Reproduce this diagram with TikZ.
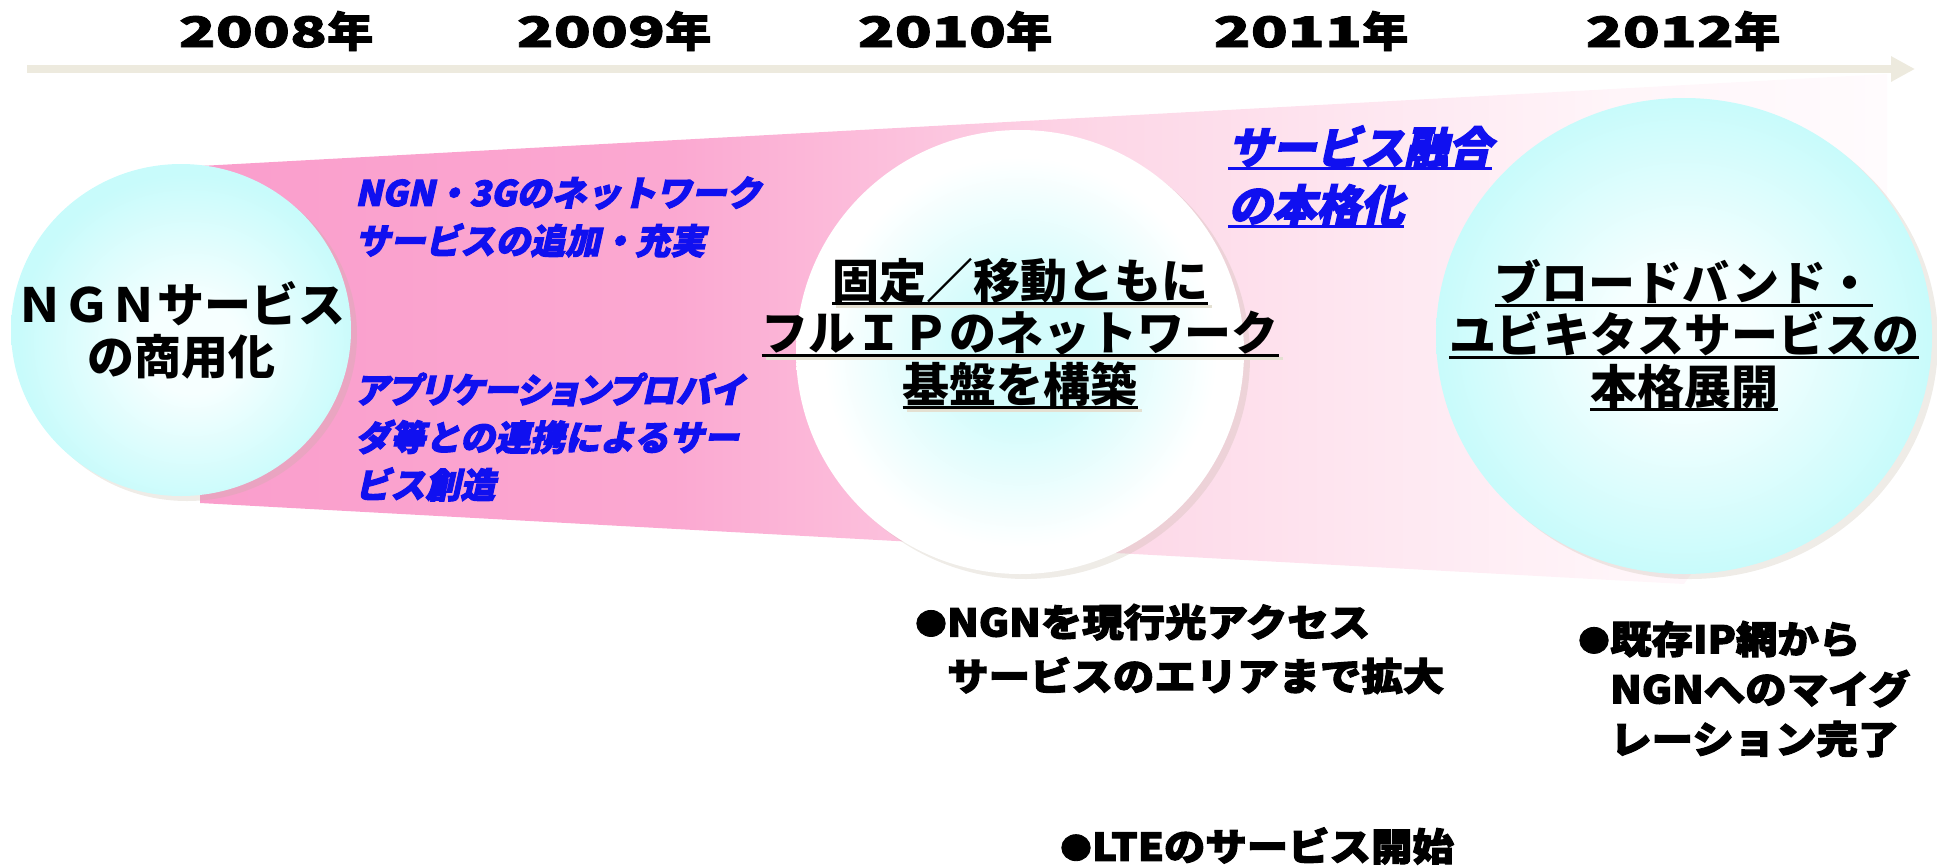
\documentclass[tikz,border=0pt]{standalone}
\usepackage{fontspec}
\usetikzlibrary{arrows.meta}
\newfontfamily\jp{Noto Sans CJK JP}
\newfontfamily\jpw{Noto Sans CJK JP}[FakeStretch=1.09,FakeBold=3]
\newfontfamily\jpi{Noto Sans CJK JP}[FakeSlant=0.22,FakeBold=3]
\newfontfamily\jpd{Noto Sans CJK JP}[FakeStretch=1.45,FakeBold=2]
\newfontfamily\jpk{Noto Sans CJK JP}[FakeStretch=1.1,FakeBold=2]
\definecolor{tlc}{RGB}{237,234,222}
\definecolor{blu}{RGB}{16,16,240}
\definecolor{shadowc}{RGB}{228,224,210}
\definecolor{shadfill}{RGB}{190,178,160}
\definecolor{cAa}{RGB}{246,255,255}
\definecolor{cAb}{RGB}{200,251,251}
\definecolor{cBa}{RGB}{212,252,252}
\definecolor{fa}{RGB}{250,158,204}
\definecolor{fb}{RGB}{251,168,209}
\definecolor{fc}{RGB}{253,215,231}
\definecolor{fd}{RGB}{255,245,249}
\definecolor{fe}{RGB}{255,251,253}
\pgfdeclareradialshading{cyanedge}{\pgfpoint{0bp}{0bp}}{color(0bp)=(cAa); color(7bp)=(cAa); color(25bp)=(cAb); color(50bp)=(cAb)}
\pgfdeclareradialshading{cyanedgeL}{\pgfpoint{2bp}{-3bp}}{color(0bp)=(cAa); color(7bp)=(cAa); color(25bp)=(cAb); color(50bp)=(cAb)}
\pgfdeclareradialshading{whiteedge}{\pgfpoint{0bp}{0bp}}{color(0bp)=(cBa); color(8bp)=(cBa); color(22bp)=(white); color(50bp)=(white)}
\pgfdeclarehorizontalshading{funnelsh}{100bp}{color(0bp)=(fa); color(25bp)=(fa); color(39bp)=(fb); color(51.7bp)=(fc); color(67bp)=(fd); color(75bp)=(fe); color(100bp)=(fe)}
\newcommand\ulx[1]{\setbox0=\hbox{#1}\rlap{\rule[-6.5pt]{\wd0}{3pt}}\box0}
% underline with a soft shadow under the rule
\newcommand\shl[1]{\setbox0=\hbox{#1}\rlap{\kern4pt{\color{shadowc}\rule[-9.5pt]{\wd0}{3pt}}}\rlap{\rule[-6.5pt]{\wd0}{3pt}}\box0}
\newcommand\bul{\makebox[32pt][l]{\raisebox{2pt}{\fontsize{29}{29}\selectfont ●}}}
\begin{document}
\begin{tikzpicture}[x=1pt,y=-1pt,
  yr/.style={font=\jpk\bfseries\fontsize{42}{42}\selectfont, inner sep=0pt},
  circtxt/.style={font=\jp\bfseries\fontsize{47}{52}\selectfont, align=center, inner sep=0pt},
  bluetxt/.style={font=\jpi\bfseries\fontsize{35}{48}\selectfont, text=blu, align=left, inner sep=0pt, anchor=west},
  blacktxt/.style={font=\jpw\bfseries\fontsize{38}{54}\selectfont, align=left, inner sep=0pt, anchor=west},
  circshadow/.style={fill=shadfill, fill opacity=0.25},
  timeline/.style={draw=tlc, line width=8pt, -{Triangle[width=24pt,length=24pt,fill=tlc]}},
]
\useasboundingbox (0,0) rectangle (1937,865);
% timeline
\coordinate (tl0) at (27,69);
\coordinate (tl1) at (1915,69);
\draw[timeline] (tl0) -- (tl1);
% years
\node[yr] (y2008) at (276,31) {{\jpd 2008}年};
\node[yr] (y2009) at (614,31) {{\jpd 2009}年};
\node[yr] (y2010) at (955,31) {{\jpd 2010}年};
\node[yr] (y2011) at (1311,31) {{\jpd 2011}年};
\node[yr] (y2012) at (1683,31) {{\jpd 2012}年};
% funnel
\shade[shading=funnelsh] (200,166) -- (1887,74) -- (1887,300) -- (1684,584) -- (200,503) -- cycle;
% circles
\coordinate (cL) at (181,330);
\coordinate (cM) at (1020,352);
\coordinate (cR) at (1684,336);
\path[circshadow] ([shift={(6,5)}]cL) ellipse [x radius=170pt, y radius=166pt];
\shade[shading=cyanedgeL] (cL) ellipse [x radius=170pt, y radius=166pt];
\path[circshadow] ([shift={(6,5)}]cM) ellipse [x radius=224pt, y radius=222pt];
\shade[shading=whiteedge] (cM) ellipse [x radius=224pt, y radius=222pt];
\path[circshadow] ([shift={(6,5)}]cR) ellipse [x radius=248pt, y radius=238pt];
\shade[shading=cyanedge] (cR) ellipse [x radius=248pt, y radius=238pt];
% circle texts
\node[circtxt] (tL) at (181,330) {ＮＧＮサービス\\の商用化};
\node[circtxt] (tM) at (1020,335) {\shl{固定／移動ともに}\\\shl{フルＩＰのネットワーク}\\\shl{基盤を構築}};
\node[circtxt] (tR) at (1684,335) {\ulx{ブロードバンド・}\\\ulx{ユビキタスサービスの}\\\ulx{本格展開}};
% blue texts
\node[bluetxt] (b1) at (355,217) {NGN・3Gのネットワーク\\サービスの追加・充実};
\node[bluetxt, font=\jpi\bfseries\fontsize{35}{47.5}\selectfont] (b2) at (355,437) {{\addfontfeature{RawFeature=+palt}アプリケーションプロバイ}\\ダ等との連携によるサー\\ビス創造};
\node[bluetxt, font=\jpi\bfseries\fontsize{44}{58}\selectfont] (b3) at (1228,177) {\ulx{サービス融合}\\\ulx{の本格化}};
% bottom texts
\node[blacktxt] (n1) at (915,649) {\bul NGNを現行光アクセス\\\hspace*{32pt}サービスのエリアまで拡大};
\node[blacktxt, font=\jpw\bfseries\fontsize{38}{50}\selectfont] (n2) at (1578,689) {\bul 既存IP網から\\\hspace*{32pt}NGNへのマイグ\\\hspace*{32pt}レーション完了};
\node[blacktxt] (n3) at (1060,846) {\bul LTEのサービス開始};
\end{tikzpicture}
\end{document}
